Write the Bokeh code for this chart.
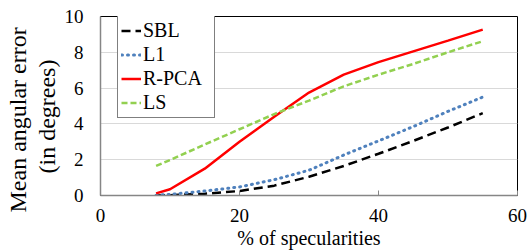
from bokeh.plotting import figure
from bokeh.models import Range1d, FixedTicker, Legend, LegendItem, Title
from bokeh.embed import file_html
from bokeh.resources import INLINE

# % of specularities
x_vals = [8, 10, 15, 20, 25, 30, 35, 40, 45, 50, 55]
sbl = [0.0, 0.02, 0.1, 0.25, 0.55, 1.05, 1.65, 2.33, 3.05, 3.8, 4.6]
l1 = [0.02, 0.06, 0.25, 0.48, 0.88, 1.41, 2.26, 3.05, 3.85, 4.7, 5.5]
rpca = [0.12, 0.35, 1.5, 3.0, 4.4, 5.75, 6.75, 7.45, 8.05, 8.65, 9.27]
ls = [1.65, 1.98, 2.85, 3.7, 4.55, 5.3, 6.1, 6.75, 7.35, 8.0, 8.62]

x_ticks = [0, 20, 40, 60]
y_ticks = [0, 2, 4, 6, 8, 10]

F = "'Liberation Serif'"

p = figure(width=527, height=250, output_backend="svg", toolbar_location=None,
           x_range=Range1d(0, 60), y_range=Range1d(0, 10),
           min_border_left=100, min_border_right=10, min_border_top=16, min_border_bottom=55)
p.background_fill_color = "white"
p.border_fill_color = "white"
p.outline_line_color = "black"
p.outline_line_width = 1

p.xgrid.visible = False
p.ygrid.ticker = FixedTicker(ticks=y_ticks)
p.ygrid.grid_line_color = "#d9d9d9"
p.ygrid.grid_line_width = 1

p.xaxis.ticker = FixedTicker(ticks=x_ticks)
p.yaxis.ticker = FixedTicker(ticks=y_ticks)
for ax in (p.xaxis, p.yaxis):
    ax.axis_line_color = "#868686"
    ax.axis_line_width = 1.5
    ax.major_label_text_font = F
    ax.major_label_text_font_size = "19px"
    ax.major_label_text_font_style = "normal"
    ax.major_label_text_color = "black"
    ax.minor_tick_line_color = None
    ax.major_tick_out = 0
p.xaxis.major_tick_in = 5
p.xaxis.major_tick_line_color = "#868686"
p.yaxis.major_tick_line_color = None
p.yaxis.major_tick_in = 0
p.xaxis.major_label_standoff = 13
p.yaxis.major_label_standoff = 17

tx = Title(text="% of specularities", align="center", standoff=0,
           text_font=F, text_font_size="20px", text_font_style="normal", text_color="black")
p.add_layout(tx, "below")

r_sbl = p.line(x_vals, sbl, line_color="black", line_width=2.5, line_dash="9 5")
r_l1 = p.line(x_vals, l1, line_color="#4f81bd", line_width=3, line_dash="1 5", line_cap="round")
r_rpca = p.line(x_vals, rpca, line_color="#ff0000", line_width=2.5)
r_ls = p.line(x_vals, ls, line_color="#92d050", line_width=2.5, line_dash="6 3")

legend = Legend(items=[
    LegendItem(label="SBL", renderers=[r_sbl]),
    LegendItem(label="L1", renderers=[r_l1]),
    LegendItem(label="R-PCA", renderers=[r_rpca]),
    LegendItem(label="LS", renderers=[r_ls]),
], location=(17, 77))
legend.label_text_font = F
legend.label_text_font_size = "20px"
legend.label_text_font_style = "normal"
legend.label_text_color = "black"
legend.border_line_color = "black"
legend.border_line_width = 1
legend.background_fill_color = "white"
legend.background_fill_alpha = 1
legend.padding = 3
legend.spacing = 1
legend.margin = 0
legend.glyph_width = 20
legend.glyph_height = 21
legend.label_height = 21
legend.label_standoff = 2
legend.label_width = 68
p.add_layout(legend, "center")

t2 = Title(text="(in degrees)", align="left", offset=22, standoff=3,
           text_font=F, text_font_size="24px", text_font_style="normal", text_color="black")
t1 = Title(text="Mean angular error", align="left", offset=-17, standoff=0,
           text_font=F, text_font_size="24px", text_font_style="normal", text_color="black")
p.add_layout(t2, "left")
p.add_layout(t1, "left")

open("out.html", "w").write(file_html(p, INLINE))
